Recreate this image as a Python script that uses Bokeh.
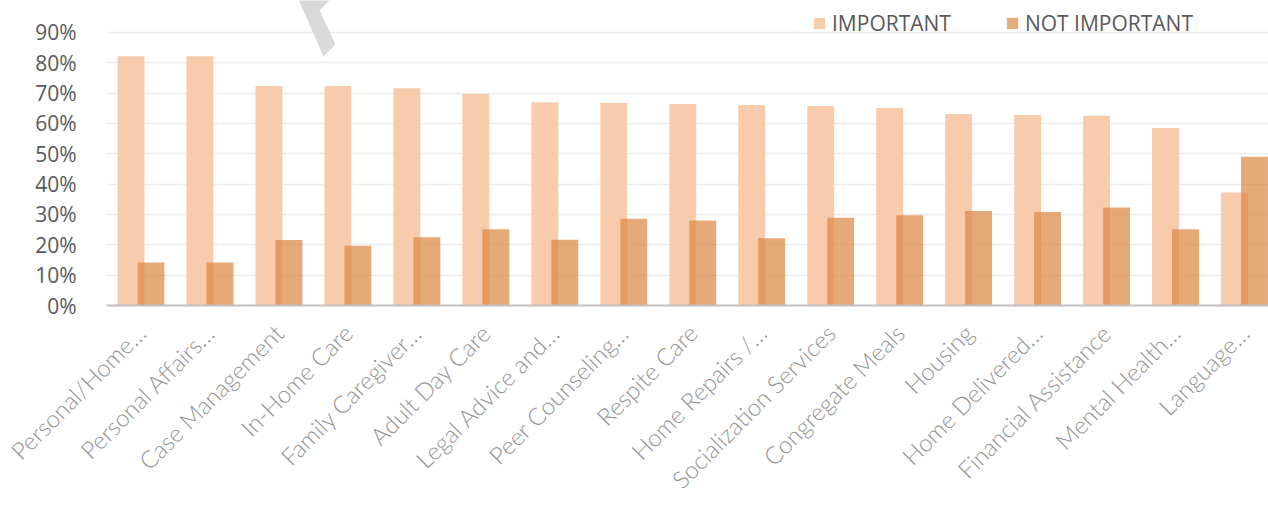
import math

from bokeh.embed import file_html
from bokeh.models import (ColumnDataSource, FixedTicker, Legend, LegendItem,
                          NumeralTickFormatter, PolyAnnotation, Range1d)
from bokeh.plotting import figure
from bokeh.resources import INLINE
from bokeh.transform import dodge

# Survey results: share of respondents rating each service
services = [
    "Personal/Home…", "Personal Affairs…", "Case Management", "In-Home Care",
    "Family Caregiver…", "Adult Day Care", "Legal Advice and…", "Peer Counseling…",
    "Respite Care", "Home Repairs /…", "Socialization Services", "Congregate Meals",
    "Housing", "Home Delivered…", "Financial Assistance", "Mental Health…", "Language…",
]
important = [0.821, 0.821, 0.723, 0.723, 0.716, 0.697, 0.670, 0.667, 0.664,
             0.661, 0.657, 0.651, 0.631, 0.628, 0.625, 0.585, 0.372]
not_important = [0.142, 0.142, 0.216, 0.197, 0.225, 0.251, 0.217, 0.286, 0.280,
                 0.222, 0.289, 0.297, 0.311, 0.308, 0.323, 0.251, 0.490]
y_ticks = [0.0, 0.1, 0.2, 0.3, 0.4, 0.5, 0.6, 0.7, 0.8, 0.9]

source = ColumnDataSource(dict(
    x=list(range(len(services))),
    important=important,
    not_important=not_important,
))

p = figure(
    width=1268, height=506,
    x_range=Range1d(-0.5, 16.348), y_range=Range1d(0, 1.005),
    output_backend="svg", toolbar_location=None,
    min_border_left=106, min_border_right=0, min_border_top=0, min_border_bottom=200,
)
p.outline_line_color = None
p.background_fill_color = "white"
p.border_fill_color = "white"

# grid
p.xgrid.visible = False
p.ygrid.ticker = FixedTicker(ticks=y_ticks)
p.ygrid.grid_line_color = "#ececec"
p.ygrid.grid_line_width = 1.5

# y axis
p.yaxis.ticker = FixedTicker(ticks=y_ticks)
p.yaxis.formatter = NumeralTickFormatter(format="0%")
p.yaxis.axis_line_color = None
p.yaxis.major_tick_line_color = None
p.yaxis.minor_tick_line_color = None
p.yaxis.major_label_standoff = 24
p.yaxis.major_label_text_font = "Open Sans"
p.yaxis.major_label_text_font_size = "21px"
p.yaxis.major_label_text_color = "#595959"

# x axis with category names
p.xaxis.ticker = FixedTicker(ticks=list(range(len(services))))
p.xaxis.major_label_overrides = {i: s for i, s in enumerate(services)}
p.xaxis.major_label_orientation = math.pi / 4
p.xaxis.axis_line_color = "#bfbfbf"
p.xaxis.axis_line_width = 2
p.xaxis.major_tick_line_color = None
p.xaxis.minor_tick_line_color = None
p.xaxis.major_label_standoff = 17
p.xaxis.major_label_text_font = "'Lato Light', Lato"
p.xaxis.major_label_text_font_size = "24px"
p.xaxis.major_label_text_color = "#939393"

bar_w = 0.39
r_imp = p.vbar(x=dodge("x", -0.145), top="important", width=bar_w, source=source,
               fill_color="#F8CBAD", line_color=None)
r_not = p.vbar(x=dodge("x", 0.145), top="not_important", width=bar_w, source=source,
               fill_color="#DB843E", fill_alpha=0.7, line_color=None)

legend = Legend(
    items=[LegendItem(label="IMPORTANT", renderers=[r_imp]),
           LegendItem(label="NOT IMPORTANT", renderers=[r_not])],
    orientation="horizontal", location=(706, 268),
    glyph_width=14, glyph_height=14, label_standoff=6, spacing=54,
    padding=0, margin=0, border_line_color=None, background_fill_alpha=0,
    label_text_font="Open Sans", label_text_font_size="21px",
    label_text_color="#595959",
)
p.add_layout(legend)

# faint diagonal stroke near the top
p.add_layout(PolyAnnotation(
    xs=[192, 224, 213, 229, 217], ys=[306, 306, 295, 261, 249],
    xs_units="screen", ys_units="screen",
    fill_color="#d9d9d9", fill_alpha=1.0, line_color=None,
))

open("out.html", "w").write(file_html(p, INLINE))
